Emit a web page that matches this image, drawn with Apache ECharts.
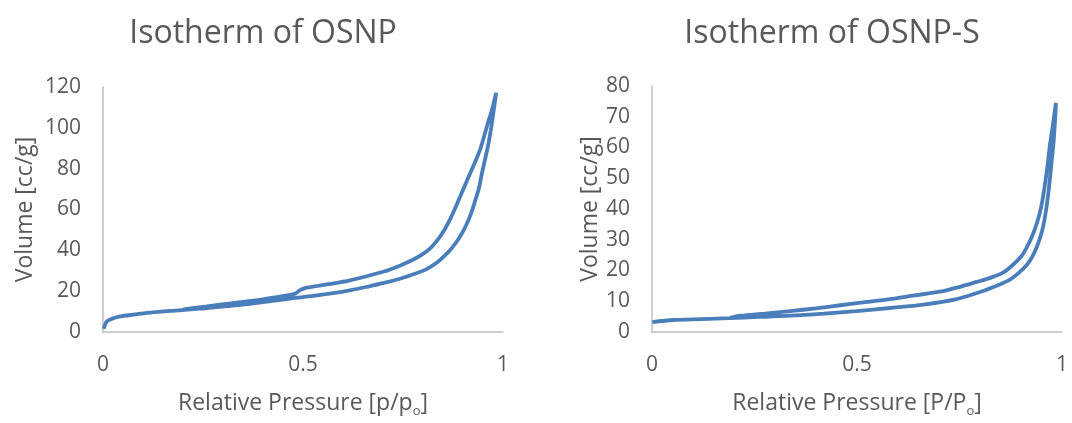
<!DOCTYPE html>
<html>
<head>
<meta charset="utf-8">
<script src="https://cdn.jsdelivr.net/npm/echarts@6/dist/echarts.min.js"></script>
<style>
  html, body { margin: 0; padding: 0; background: #fff; }
  #chart { width: 1072px; height: 423px; }
</style>
</head>
<body>
<div id="chart"></div>
<script>
// OSNP: adsorption branch then desorption branch (p/p0, volume cc/g)
var osnpPressure = [0.002, 0.009, 0.02, 0.0425, 0.075, 0.1175, 0.18, 0.2425, 0.305, 0.3675, 0.42, 0.476, 0.53, 0.576, 0.62, 0.659, 0.7, 0.7425, 0.78, 0.809, 0.835, 0.851, 0.868, 0.884, 0.897, 0.909, 0.92, 0.93, 0.94, 0.947, 0.955, 0.963, 0.97, 0.976, 0.98, 0.983,
  0.979, 0.974, 0.968, 0.961, 0.953, 0.944, 0.934, 0.924, 0.913, 0.902, 0.891, 0.879, 0.866, 0.852, 0.836, 0.818, 0.798, 0.776, 0.742, 0.7, 0.6175, 0.56, 0.509, 0.4925, 0.48, 0.459, 0.4, 0.325, 0.26, 0.2];
var osnpVolume = [1.6, 5.1, 6.3, 7.6, 8.5, 9.5, 10.5, 11.4, 12.6, 13.8, 15.1, 16.6, 17.8, 19.0, 20.5, 22.1, 23.9, 26.1, 28.5, 30.8, 34.0, 36.8, 40.2, 44.2, 48.2, 52.8, 58.0, 64.0, 70.5, 77.5, 84.5, 91.7, 99.5, 107.5, 113.0, 117.2,
  114.0, 110.0, 106.0, 101.5, 96.0, 90.0, 85.0, 80.5, 75.5, 70.5, 65.5, 60.0, 54.5, 49.5, 45.0, 41.0, 38.0, 35.5, 32.5, 29.5, 25.3, 23.3, 21.7, 20.5, 18.7, 17.9, 16.0, 14.2, 12.5, 11.1];

// OSNP-S: adsorption branch then desorption branch
var osnpsPressure = [0.001, 0.052, 0.12, 0.19, 0.26, 0.337, 0.42, 0.499, 0.58, 0.662, 0.743, 0.8, 0.845, 0.873, 0.895, 0.914, 0.928, 0.938, 0.947, 0.9545, 0.961, 0.9667, 0.971, 0.975, 0.979, 0.9817, 0.984, 0.9852,
  0.983, 0.9775, 0.9707, 0.966, 0.961, 0.955, 0.949, 0.942, 0.934, 0.926, 0.914, 0.902, 0.88, 0.857, 0.825, 0.792, 0.751, 0.702, 0.64, 0.58, 0.52, 0.459, 0.4, 0.337, 0.275, 0.215, 0.19];
var osnpsVolume = [3.2, 3.9, 4.2, 4.5, 4.9, 5.3, 6.0, 6.8, 7.8, 8.9, 10.7, 13.0, 15.3, 17.0, 19.3, 21.8, 24.6, 27.5, 30.8, 34.6, 39.5, 45.1, 50.5, 55.7, 61.0, 66.1, 71.0, 74.5,
  72.5, 67.0, 60.9, 55.5, 50.4, 45.0, 40.5, 36.8, 33.5, 30.8, 27.5, 24.8, 21.8, 19.4, 17.6, 16.3, 14.7, 13.1, 11.9, 10.7, 9.7, 8.7, 7.7, 6.8, 6.0, 5.3, 4.6];

var xTicks = [0, 0.5, 1];

function pairs(xs, ys) {
  return xs.map(function (x, i) { return [x, ys[i]]; });
}

var textColor = "#595959";
var axisColor = "#bfbfbf";
var lineColor = "#4a7ebb";
var fontFamily = "'Open Sans', 'Noto Sans', sans-serif";

function xAxisFor(gridIndex, name) {
  return {
    type: "value",
    gridIndex: gridIndex,
    min: xTicks[0],
    max: xTicks[xTicks.length - 1],
    interval: xTicks[1] - xTicks[0],
    name: name,
    nameLocation: "middle",
    nameGap: 57,
    nameTextStyle: {
      color: textColor, fontSize: 23, fontFamily: fontFamily,
      rich: { s: { fontSize: 13, color: textColor, fontFamily: fontFamily, padding: [16, 0, 0, 0] } },
    },
    axisLine: { show: true, onZero: false, lineStyle: { color: axisColor, width: 1.5 } },
    axisTick: { show: false },
    splitLine: { show: false },
    axisLabel: { color: textColor, fontSize: 21, fontFamily: fontFamily, margin: 23 },
  };
}

function yAxisFor(gridIndex, max, interval, nameGap) {
  return {
    type: "value",
    gridIndex: gridIndex,
    min: 0,
    max: max,
    interval: interval,
    name: "Volume [cc/g]",
    nameLocation: "middle",
    nameGap: nameGap,
    nameTextStyle: { color: textColor, fontSize: 23, fontFamily: fontFamily },
    axisLine: { show: true, lineStyle: { color: axisColor, width: 1.5 } },
    axisTick: { show: false },
    splitLine: { show: false },
    axisLabel: { color: textColor, fontSize: 21, fontFamily: fontFamily, margin: 22 },
  };
}

var myChart = echarts.init(document.getElementById("chart"));

var option = {
  backgroundColor: "#fff",
  animation: false,
  title: [
    {
      text: "Isotherm of OSNP",
      left: 258, top: 13, textAlign: "center",
      textStyle: { color: textColor, fontSize: 32, fontWeight: "normal", fontFamily: fontFamily },
    },
    {
      text: "Isotherm of OSNP-S",
      left: 827, top: 13, textAlign: "center",
      textStyle: { color: textColor, fontSize: 32, fontWeight: "normal", fontFamily: fontFamily },
    },
  ],
  grid: [
    { left: 103, right: 569, top: 87, bottom: 83 },
    { left: 652, right: 10, top: 86, bottom: 83 },
  ],
  xAxis: [
    xAxisFor(0, "Relative Pressure [p/p{s|o}]"),
    xAxisFor(1, "Relative Pressure [P/P{s|o}]"),
  ],
  yAxis: [yAxisFor(0, 120, 20, 66), yAxisFor(1, 80, 10, 50)],
  series: [
    {
      name: "OSNP",
      type: "line",
      xAxisIndex: 0,
      yAxisIndex: 0,
      data: pairs(osnpPressure, osnpVolume),
      smooth: 0.3,
      showSymbol: false,
      lineStyle: { color: lineColor, width: 3.8 },
    },
    {
      name: "OSNP-S",
      type: "line",
      xAxisIndex: 1,
      yAxisIndex: 1,
      data: pairs(osnpsPressure, osnpsVolume),
      smooth: 0.3,
      showSymbol: false,
      lineStyle: { color: lineColor, width: 3.8 },
    },
  ],
};

myChart.setOption(option);
</script>
</body>
</html>
